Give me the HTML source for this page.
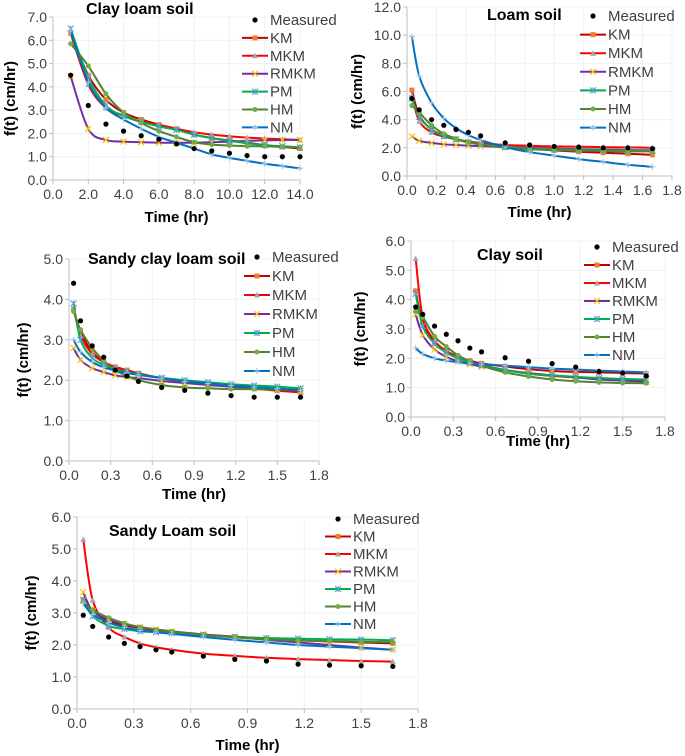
<!DOCTYPE html>
<html><head><meta charset="utf-8">
<style>
html,body{margin:0;padding:0;background:#fff;}
svg{display:block;font-family:"Liberation Sans",Arial,sans-serif;}
</style></head>
<body>
<svg id="fig" width="685" height="756" viewBox="0 0 685 756" xmlns="http://www.w3.org/2000/svg"></svg>
<script>
// ---- data ----
const seriesNames = ["Measured","KM","MKM","RMKM","PM","HM","NM"];
const timeHours = [1,2,3,4,5,6,7,8,9,10,11,12,13,14];
const timeShort = [0.033,0.083,0.167,0.25,0.333,0.417,0.5,0.667,0.833,1.0,1.167,1.333,1.5,1.667];

const clayLoamMeasured = [4.5,3.2,2.4,2.1,1.9,1.75,1.55,1.35,1.25,1.15,1.05,1.0,1.0,1.0];
const clayLoamKM = [6.3,4.5,3.45,2.9,2.6,2.38,2.2,1.95,1.8,1.7,1.6,1.5,1.42,1.35];
const clayLoamMKM = [6.3,4.1,3.1,2.75,2.5,2.35,2.2,2.05,1.95,1.88,1.82,1.78,1.75,1.72];
const clayLoamRMKM = [4.45,2.2,1.72,1.65,1.62,1.6,1.6,1.6,1.62,1.65,1.68,1.7,1.72,1.72];
const clayLoamPM = [6.5,4.4,3.2,2.75,2.5,2.3,2.15,1.95,1.8,1.68,1.58,1.5,1.45,1.4];
const clayLoamHM = [5.85,4.9,3.7,2.9,2.45,2.1,1.85,1.62,1.52,1.48,1.45,1.45,1.42,1.4];
const clayLoamNM = [6.4,4.2,3.1,2.6,2.2,1.85,1.6,1.35,1.1,0.95,0.82,0.7,0.6,0.5];

const loamMeasured = [5.5,4.7,4.0,3.6,3.3,3.1,2.85,2.35,2.2,2.1,2.05,2.0,2.0,1.95];
const loamKM = [6.1,4.3,3.3,2.9,2.6,2.4,2.25,2.05,1.92,1.82,1.72,1.65,1.58,1.5];
const loamMKM = [5.7,3.9,3.1,2.8,2.6,2.45,2.35,2.2,2.15,2.1,2.08,2.05,2.03,2.0];
const loamRMKM = [2.8,2.5,2.35,2.25,2.2,2.15,2.12,2.05,2.0,1.95,1.9,1.88,1.85,1.82];
const loamPM = [5.5,4.2,3.3,2.85,2.6,2.4,2.25,2.05,1.95,1.9,1.85,1.82,1.8,1.78];
const loamHM = [5.0,4.5,3.6,3.0,2.65,2.4,2.25,2.0,1.9,1.85,1.8,1.78,1.75,1.75];
const loamNM = [9.9,7.1,5.2,4.1,3.4,2.9,2.55,2.05,1.7,1.45,1.2,1.0,0.8,0.65];

const sclMeasured = [4.4,3.47,2.85,2.57,2.25,2.1,1.97,1.82,1.75,1.68,1.62,1.58,1.58,1.58];
const sclKM = [3.75,3.2,2.7,2.45,2.33,2.25,2.17,2.05,1.96,1.9,1.84,1.8,1.75,1.7];
const sclMKM = [3.8,3.1,2.65,2.45,2.32,2.24,2.17,2.05,1.96,1.9,1.84,1.79,1.74,1.7];
const sclRMKM = [2.8,2.5,2.3,2.2,2.12,2.08,2.05,1.98,1.93,1.88,1.84,1.8,1.77,1.74];
const sclPM = [3.9,3.0,2.55,2.38,2.27,2.2,2.15,2.06,2.0,1.95,1.9,1.87,1.84,1.8];
const sclHM = [3.7,3.25,2.8,2.48,2.25,2.1,2.0,1.88,1.82,1.8,1.78,1.78,1.77,1.77];
const sclNM = [3.0,2.7,2.45,2.32,2.24,2.18,2.13,2.05,1.97,1.92,1.87,1.83,1.79,1.75];

const clayMeasured = [3.75,3.5,3.1,2.82,2.6,2.35,2.22,2.02,1.9,1.82,1.7,1.55,1.5,1.4];
const clayKM = [4.3,3.2,2.55,2.25,2.05,1.92,1.83,1.72,1.63,1.57,1.54,1.52,1.5,1.48];
const clayMKM = [5.4,3.4,2.6,2.25,2.02,1.88,1.78,1.6,1.48,1.4,1.35,1.3,1.27,1.25];
const clayRMKM = [3.5,2.8,2.3,2.05,1.9,1.8,1.72,1.6,1.5,1.42,1.35,1.28,1.24,1.2];
const clayPM = [4.2,3.1,2.5,2.2,2.0,1.86,1.76,1.6,1.48,1.42,1.37,1.33,1.3,1.28];
const clayHM = [3.6,3.4,2.75,2.4,2.1,1.9,1.75,1.52,1.38,1.28,1.22,1.18,1.16,1.15];
const clayNM = [2.35,2.15,2.0,1.92,1.87,1.83,1.8,1.75,1.7,1.65,1.62,1.58,1.55,1.52];

const slMeasured = [2.93,2.58,2.25,2.05,1.95,1.85,1.78,1.65,1.55,1.5,1.4,1.37,1.35,1.33];
const slKM = [3.42,3.05,2.75,2.62,2.53,2.46,2.41,2.33,2.26,2.2,2.15,2.11,2.08,2.05];
const slMKM = [5.3,3.4,2.55,2.25,2.05,1.93,1.85,1.73,1.66,1.6,1.56,1.53,1.5,1.48];
const slRMKM = [3.65,3.05,2.8,2.65,2.56,2.49,2.43,2.33,2.25,2.16,2.08,2.0,1.92,1.85];
const slPM = [3.4,2.9,2.6,2.5,2.43,2.4,2.37,2.3,2.25,2.22,2.2,2.18,2.17,2.15];
const slHM = [3.35,3.1,2.85,2.68,2.56,2.48,2.42,2.32,2.24,2.18,2.14,2.12,2.1,2.09];
const slNM = [3.3,2.95,2.7,2.55,2.46,2.4,2.35,2.25,2.16,2.08,2.0,1.95,1.9,1.85];

const xTicksLong = [0,2,4,6,8,10,12,14];
const xTicksLoam = [0,0.2,0.4,0.6,0.8,1.0,1.2,1.4,1.6,1.8];
const xTicksShort = [0,0.3,0.6,0.9,1.2,1.5,1.8];
const yTicks7 = [0,1,2,3,4,5,6,7];
const yTicks12 = [0,2,4,6,8,10,12];
const yTicks5 = [0,1,2,3,4,5];
const yTicks6 = [0,1,2,3,4,5,6];

// ---- styles (not data) ----
const lineColors = [null,"#C00000","#FF0000","#7030A0","#00B050","#548235","#0070C0"];
const markColors = ["#000","#ED7D31","#A5A5A5","#FFC000","#5B9BD5","#70AD47","#9DC3E6"];

const NS="http://www.w3.org/2000/svg";
const svg=document.getElementById('fig');
function mk(tag,attrs,parent){const e=document.createElementNS(NS,tag);for(const k in attrs)e.setAttribute(k,attrs[k]);(parent||svg).appendChild(e);return e;}
function smooth(pts){
  let d="M"+pts[0][0]+","+pts[0][1];
  for(let i=0;i<pts.length-1;i++){
    const p0=pts[Math.max(0,i-1)],p1=pts[i],p2=pts[i+1],p3=pts[Math.min(pts.length-1,i+2)];
    const c1x=p1[0]+(p2[0]-p0[0])/6,c1y=p1[1]+(p2[1]-p0[1])/6;
    const c2x=p2[0]-(p3[0]-p1[0])/6,c2y=p2[1]-(p3[1]-p1[1])/6;
    d+=` C${c1x},${c1y} ${c2x},${c2y} ${p2[0]},${p2[1]}`;
  }
  return d;
}
function marker(g,idx,x,y){
  const c=markColors[idx];let m;
  if(idx===0){m=mk('circle',{cx:x,cy:y,r:2.6,fill:c},g);}
  else if(idx===1){m=mk('rect',{x:x-2.5,y:y-2.5,width:5,height:5,fill:c},g);}
  else if(idx===2){m=mk('path',{d:`M${x},${y-3} L${x+3},${y+2.5} L${x-3},${y+2.5}Z`,fill:c},g);}
  else if(idx===3){m=mk('path',{d:`M${x-3},${y-3}L${x+3},${y+3}M${x+3},${y-3}L${x-3},${y+3}`,stroke:c,'stroke-width':1.2},g);}
  else if(idx===4){m=mk('path',{d:`M${x-3},${y-3}L${x+3},${y+3}M${x+3},${y-3}L${x-3},${y+3}M${x},${y-3}L${x},${y+3}`,stroke:c,'stroke-width':1.1},g);}
  else if(idx===5){m=mk('circle',{cx:x,cy:y,r:2.5,fill:c},g);}
  else {m=mk('path',{d:`M${x-3},${y}L${x+3},${y}M${x},${y-3}L${x},${y+3}`,stroke:c,'stroke-width':1.1},g);}
  
  
}
function drawChart(c){
  const g=mk('g',{});
  
  
  const X=v=>c.x0+(v-c.xmin)/(c.xmax-c.xmin)*(c.x1-c.x0);
  const Y=v=>c.y0-(v-c.ymin)/(c.ymax-c.ymin)*(c.y0-c.y1);
  c.xt.forEach(t=>{
    const gl=mk('line',{x1:X(t),x2:X(t),y1:c.y1,y2:c.y0,stroke:'#eef0f5','stroke-width':1},g);
    
    mk('line',{x1:X(t),x2:X(t),y1:c.y0,y2:c.y0+4,stroke:'#bfbfbf'},g);
    const tx=mk('text',{x:X(t),y:c.y0+19,'font-size':14,'text-anchor':'middle',fill:'#404040'},g);
    tx.textContent=t.toFixed(1);
    
  });
  c.yt.forEach(t=>{
    if(t>c.ymin){const gl=mk('line',{x1:c.x0,x2:c.x1,y1:Y(t),y2:Y(t),stroke:'#eef0f5'},g);
    }
    mk('line',{x1:c.x0-4,x2:c.x0,y1:Y(t),y2:Y(t),stroke:'#bfbfbf'},g);
    const tx=mk('text',{x:c.x0-6,y:Y(t)+5,'font-size':14,'text-anchor':'end',fill:'#404040'},g);
    tx.textContent=t.toFixed(1);
    
  });
  const ax=mk('path',{d:`M${c.x0},${c.y1}L${c.x0},${c.y0}L${c.x1},${c.y0}`,stroke:'#bfbfbf',fill:'none'},g);
  
  for(let s=1;s<c.series.length;s++){
    const pts=c.t.map((t,i)=>[X(t),Y(c.series[s][i])]);
    const p=mk('path',{d:smooth(pts),stroke:lineColors[s],'stroke-width':2,fill:'none'},g);
    
    
    pts.forEach(q=>marker(g,s,q[0],q[1]));
  }
  c.t.forEach((t,i)=>marker(g,0,X(t),Y(c.series[0][i])));
  const tt=mk('text',{x:c.tx,y:c.ty,'font-size':16,'font-weight':'bold',fill:'#000'},g);
  tt.textContent=c.title;
  
  const xl=mk('text',{x:(c.x0+c.x1)/2,y:c.xly,'font-size':15,'font-weight':'bold','text-anchor':'middle',fill:'#000'},g);
  xl.textContent="Time (hr)";
  
  const yl=mk('text',{x:0,y:0,'font-size':15,'font-weight':'bold','text-anchor':'middle',fill:'#000',transform:`translate(${c.ylx},${(c.y0+c.y1)/2}) rotate(-90)`},g);
  yl.textContent="f(t) (cm/hr)";
  
  seriesNames.forEach((n,i)=>{
    const ly=c.ly0+i*c.ldy;
    const lg=mk('g',{},g);
    
    
    if(i>0){mk('line',{x1:c.lx-13,x2:c.lx+13,y1:ly,y2:ly,stroke:lineColors[i],'stroke-width':2},lg);}
    marker(lg,i,c.lx,ly);
    const t=mk('text',{x:c.lx+15,y:ly+5,'font-size':15,fill:'#404040'},lg);
    t.textContent=n;
  });
}
drawChart({name:'clay-loam-chart',title:'Clay loam  soil',tx:86,ty:14,t:timeHours,
  series:[clayLoamMeasured,clayLoamKM,clayLoamMKM,clayLoamRMKM,clayLoamPM,clayLoamHM,clayLoamNM],
  xmin:0,xmax:14,ymin:0,ymax:7,x0:53,x1:300,y0:180,y1:17,xt:xTicksLong,yt:yTicks7,
  xly:222,ylx:15,lx:255,ly0:20,ldy:17.9});
drawChart({name:'loam-chart',title:'Loam soil',tx:487,ty:20,t:timeShort,
  series:[loamMeasured,loamKM,loamMKM,loamRMKM,loamPM,loamHM,loamNM],
  xmin:0,xmax:1.8,ymin:0,ymax:12,x0:407,x1:672,y0:176,y1:7,xt:xTicksLoam,yt:yTicks12,
  xly:217,ylx:362,lx:593,ly0:16,ldy:18.6});
drawChart({name:'sandy-clay-loam-chart',title:'Sandy clay loam soil',tx:88,ty:264,t:timeShort,
  series:[sclMeasured,sclKM,sclMKM,sclRMKM,sclPM,sclHM,sclNM],
  xmin:0,xmax:1.8,ymin:0,ymax:5,x0:69,x1:319,y0:461,y1:259,xt:xTicksShort,yt:yTicks5,
  xly:499,ylx:28,lx:257,ly0:257,ldy:19});
drawChart({name:'clay-chart',title:'Clay soil',tx:477,ty:260,t:timeShort,
  series:[clayMeasured,clayKM,clayMKM,clayRMKM,clayPM,clayHM,clayNM],
  xmin:0,xmax:1.8,ymin:0,ymax:6,x0:411,x1:665,y0:417,y1:241,xt:xTicksShort,yt:yTicks6,
  xly:446,ylx:365,lx:597,ly0:247,ldy:18});
drawChart({name:'sandy-loam-chart',title:'Sandy Loam soil',tx:109,ty:536,t:timeShort,
  series:[slMeasured,slKM,slMKM,slRMKM,slPM,slHM,slNM],
  xmin:0,xmax:1.8,ymin:0,ymax:6,x0:77,x1:418,y0:709,y1:517,xt:xTicksShort,yt:yTicks6,
  xly:750,ylx:36,lx:338,ly0:519,ldy:17.5});
</script>
</body></html>
